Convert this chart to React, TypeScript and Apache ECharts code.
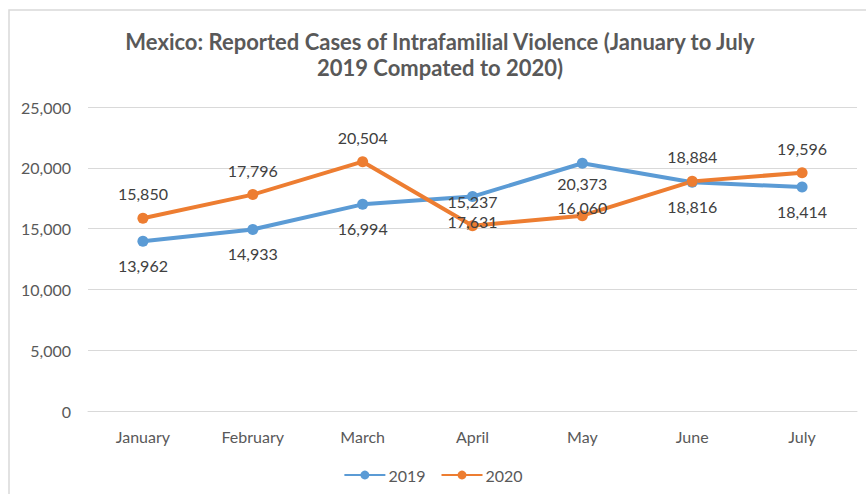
import React, { useEffect, useRef } from "react";
import * as echarts from "echarts";

const categories = ["January", "February", "March", "April", "May", "June", "July"];
const series2019 = [13962, 14933, 16994, 17631, 20373, 18816, 18414];
const series2020 = [15850, 17796, 20504, 15237, 16060, 18884, 19596];
const titleText = "Mexico: Reported Cases of Intrafamilial Violence (January to July\n2019 Compated to 2020)";

const FONT = "Lato, 'Open Sans', sans-serif";

export default function App() {
  const ref = useRef<HTMLDivElement>(null);
  useEffect(() => {
    if (!ref.current) return;
    const chart = echarts.init(ref.current, undefined, { renderer: "svg" });
    const fmt = (v: number) => v.toLocaleString("en-US");
    const data2019 = series2019.map((v, i) =>
      i === 4 ? { value: v, label: { distance: 7 } } : v
    );
    const data2020 = series2020.map((v, i) =>
      i === 4 ? { value: v, label: { distance: 3, offset: [0, 8] } } : v
    );
    chart.setOption({
      animation: false,
      backgroundColor: "#ffffff",
      textStyle: { fontFamily: FONT },
      title: {
        text: titleText,
        left: 435,
        top: 23,
        textAlign: "center",
        textStyle: {
          fontFamily: FONT,
          fontSize: 22,
          fontWeight: "bold",
          color: "#595959",
          lineHeight: 26,
        },
      },
      graphic: [
        {
          type: "rect",
          shape: { x: 9, y: 10, width: 900, height: 520 },
          style: { fill: "none", stroke: "#d9d9d9", lineWidth: 1.5 },
          silent: true,
        },
      ],
      legend: {
        top: 462,
        left: "center",
        itemWidth: 41,
        itemHeight: 11,
        itemGap: 15,
        textStyle: { fontFamily: FONT, fontSize: 16, color: "#595959", padding: [0, 0, 0, -2] },
        data: ["2019", "2020"],
      },
      grid: { left: 88, right: 9, top: 107, bottom: 83 },
      xAxis: {
        type: "category",
        data: categories,
        boundaryGap: true,
        axisLine: { show: true, lineStyle: { color: "#d9d9d9" } },
        axisTick: { show: false },
        axisLabel: { color: "#595959", fontSize: 16, margin: 17, fontFamily: FONT },
      },
      yAxis: {
        type: "value",
        min: 0,
        max: 25000,
        interval: 5000,
        axisLine: { show: false },
        axisTick: { show: false },
        splitLine: { lineStyle: { color: "#d9d9d9", width: 1 } },
        axisLabel: {
          color: "#595959",
          fontSize: 16,
          margin: 17,
          fontFamily: FONT,
          formatter: (v: number) => fmt(v),
        },
      },
      series: [
        {
          name: "2019",
          type: "line",
          data: data2019,
          color: "#5B9BD5",
          lineStyle: { width: 4, color: "#5B9BD5" },
          symbol: "circle",
          symbolSize: 11,
          itemStyle: { color: "#5B9BD5" },
          label: {
            show: true,
            position: "bottom",
            distance: 11,
            color: "#404040",
            fontSize: 16,
            fontFamily: FONT,
            formatter: (p: any) => fmt(p.value),
          },
        },
        {
          name: "2020",
          type: "line",
          data: data2020,
          color: "#ED7D31",
          lineStyle: { width: 4, color: "#ED7D31" },
          symbol: "circle",
          symbolSize: 11,
          itemStyle: { color: "#ED7D31" },
          label: {
            show: true,
            position: "top",
            distance: 11,
            color: "#404040",
            fontSize: 16,
            fontFamily: FONT,
            formatter: (p: any) => fmt(p.value),
          },
        },
      ],
    });
    return () => chart.dispose();
  }, []);
  return (
    <div
      ref={ref}
      style={{ position: "fixed", left: 0, top: 0, width: 866, height: 494 }}
    />
  );
}
